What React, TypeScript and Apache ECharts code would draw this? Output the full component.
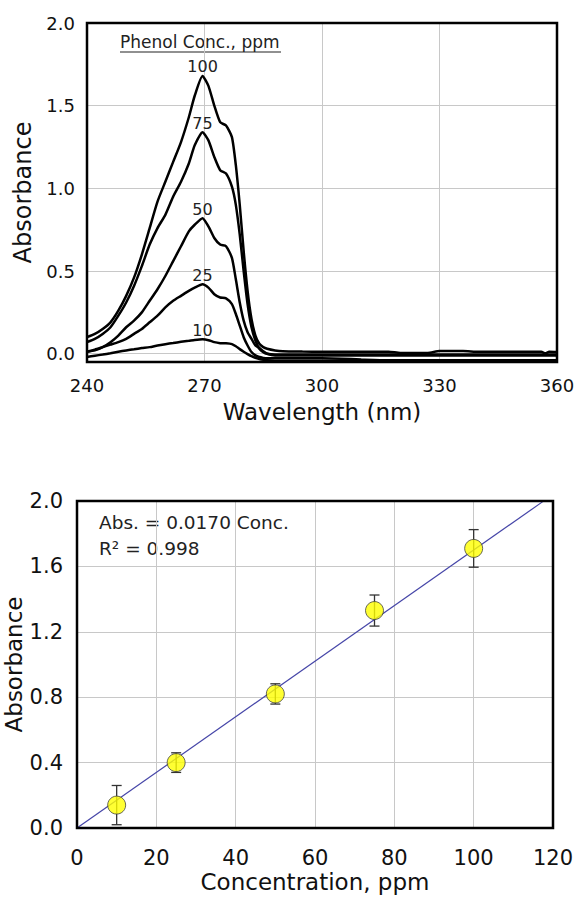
import React, { useEffect, useRef } from "react";
import * as echarts from "echarts";

// ---------- Top chart: phenol UV spectra ----------
const WAVELENGTH = [240, 242, 244, 246, 248, 250, 252, 254, 256, 258, 260, 262, 264, 266, 267.5, 269.5, 271, 272.5, 274, 275.5, 277, 278, 279, 280, 281, 282, 283, 284, 285, 286, 288, 290, 295, 300, 305, 310, 317, 320, 327, 330, 336, 340, 350, 356, 357, 358, 360];
const PEAK_INDEX = 15;
const ABS_100 = [0.10, 0.12, 0.15, 0.19, 0.26, 0.35, 0.46, 0.60, 0.76, 0.92, 1.04, 1.16, 1.28, 1.43, 1.56, 1.68, 1.62, 1.50, 1.40, 1.38, 1.31, 1.14, 0.90, 0.62, 0.38, 0.21, 0.11, 0.06, 0.04, 0.03, 0.02, 0.015, 0.013, 0.012, 0.012, 0.012, 0.012, 0.005, 0.005, 0.016, 0.016, 0.012, 0.012, 0.012, 0.003, 0.012, 0.01];
const ABS_75 = [0.07, 0.09, 0.12, 0.16, 0.23, 0.31, 0.41, 0.53, 0.66, 0.76, 0.84, 0.95, 1.04, 1.15, 1.26, 1.34, 1.29, 1.19, 1.11, 1.09, 1.01, 0.90, 0.72, 0.50, 0.30, 0.16, 0.08, 0.03, 0.01, 0.0, -0.005, -0.005, -0.005, -0.005, -0.005, -0.005, -0.005, -0.005, -0.005, -0.005, -0.005, -0.005, -0.005, -0.005, -0.005, -0.005, -0.005];
const ABS_50 = [0.012, 0.02, 0.04, 0.07, 0.11, 0.16, 0.20, 0.25, 0.32, 0.39, 0.47, 0.56, 0.65, 0.74, 0.78, 0.82, 0.77, 0.70, 0.66, 0.65, 0.58, 0.45, 0.31, 0.20, 0.13, 0.09, 0.05, 0.035, 0.015, 0.0, -0.01, -0.01, -0.01, -0.01, -0.01, -0.01, -0.01, -0.01, -0.01, -0.01, -0.01, -0.01, -0.01, -0.01, -0.01, -0.01, -0.01];
const ABS_25 = [0.012, 0.025, 0.04, 0.055, 0.07, 0.09, 0.12, 0.15, 0.19, 0.23, 0.28, 0.32, 0.35, 0.38, 0.40, 0.42, 0.40, 0.36, 0.34, 0.335, 0.30, 0.24, 0.17, 0.10, 0.05, 0.01, -0.01, -0.02, -0.025, -0.028, -0.028, -0.028, -0.028, -0.028, -0.03, -0.035, -0.04, -0.04, -0.04, -0.04, -0.04, -0.04, -0.04, -0.04, -0.04, -0.04, -0.04];
const ABS_10 = [-0.02, -0.012, -0.005, 0.003, 0.012, 0.02, 0.027, 0.034, 0.04, 0.05, 0.058, 0.065, 0.072, 0.078, 0.083, 0.087, 0.082, 0.07, 0.064, 0.063, 0.058, 0.045, 0.028, 0.012, -0.002, -0.015, -0.025, -0.032, -0.037, -0.04, -0.042, -0.042, -0.042, -0.042, -0.042, -0.042, -0.042, -0.042, -0.042, -0.042, -0.042, -0.042, -0.042, -0.042, -0.042, -0.042, -0.042];
const SPECTRA = [
  { name: "100", values: ABS_100 },
  { name: "75", values: ABS_75 },
  { name: "50", values: ABS_50 },
  { name: "25", values: ABS_25 },
  { name: "10", values: ABS_10 },
];
const TOP_Y_TICKS = [0, 0.5, 1.0, 1.5, 2.0];

// ---------- Bottom chart: calibration ----------
const CONC = [10, 25, 50, 75, 100];
const ABS_MEAN = [0.14, 0.40, 0.82, 1.33, 1.71];
const ABS_ERR = [0.12, 0.06, 0.062, 0.095, 0.115];
const FIT_SLOPE = 0.017;
const FIT_X = [0, 117.6];

const FONT = "DejaVu Sans";
const GRID_COLOR = "#c8c8c8";

export default function App() {
  const ref = useRef<HTMLDivElement>(null);
  useEffect(() => {
    if (!ref.current) return;
    const chart = echarts.init(ref.current, undefined, { renderer: "svg" });

    const spectraSeries = SPECTRA.map((s) => ({
      type: "line",
      xAxisIndex: 0,
      yAxisIndex: 0,
      smooth: 0.2,
      symbol: "circle",
      symbolSize: 0,
      showSymbol: true,
      lineStyle: { color: "#000", width: 2.5 },
      itemStyle: { color: "#000" },
      label: { show: false },
      data: WAVELENGTH.map((w, i) =>
        i === PEAK_INDEX
          ? {
              value: [w, s.values[i]],
              label: {
                show: true,
                position: "top",
                distance: 1,
                formatter: s.name,
                fontSize: 16,
                fontFamily: FONT,
                color: "#222",
              },
            }
          : [w, s.values[i]]
      ),
      z: 3,
    }));

    const option: any = {
      animation: false,
      backgroundColor: "#fff",
      textStyle: { fontFamily: FONT },
      grid: [
        { left: 87, top: 23, width: 470, height: 339, show: true, borderColor: "#000", borderWidth: 2.5, backgroundColor: "transparent", z: 5, containLabel: false, outerBoundsMode: "none" },
        { left: 77, top: 501, width: 476, height: 327, show: true, borderColor: "#000", borderWidth: 2.5, backgroundColor: "transparent", z: 5, containLabel: false, outerBoundsMode: "none" },
      ],
      xAxis: [
        {
          gridIndex: 0,
          type: "value",
          min: 240,
          max: 360,
          interval: 30,
          name: "Wavelength (nm)",
          nameLocation: "middle",
          nameGap: 38,
          nameMoveOverlap: false,
          nameTextStyle: { fontSize: 23, color: "#111", fontFamily: FONT },
          axisLine: { show: false },
          axisTick: { show: false },
          axisLabel: { fontSize: 18, color: "#111", margin: 14, fontFamily: FONT },
          splitLine: { show: true, lineStyle: { color: GRID_COLOR, width: 1 } },
        },
        {
          gridIndex: 1,
          type: "value",
          min: 0,
          max: 120,
          interval: 20,
          name: "Concentration, ppm",
          nameLocation: "middle",
          nameGap: 42,
          nameMoveOverlap: false,
          nameTextStyle: { fontSize: 23, color: "#111", fontFamily: FONT },
          axisLine: { show: false },
          axisTick: { show: false },
          axisLabel: { fontSize: 21, color: "#111", margin: 19, fontFamily: FONT },
          splitLine: { show: true, lineStyle: { color: GRID_COLOR, width: 1 } },
        },
      ],
      yAxis: [
        {
          gridIndex: 0,
          type: "value",
          min: -0.05,
          max: 2.0,
          name: "Absorbance",
          nameLocation: "middle",
          nameGap: 52,
          nameMoveOverlap: false,
          nameTextStyle: { fontSize: 24, color: "#111", fontFamily: FONT },
          axisLine: { show: false },
          axisTick: { show: false, customValues: TOP_Y_TICKS },
          axisLabel: {
            fontSize: 18,
            color: "#111",
            margin: 12,
            fontFamily: FONT,
            customValues: TOP_Y_TICKS,
            formatter: (v: number) => v.toFixed(1),
          },
          splitLine: { show: true, lineStyle: { color: GRID_COLOR, width: 1 } },
        },
        {
          gridIndex: 1,
          type: "value",
          min: 0,
          max: 2.0,
          interval: 0.4,
          name: "Absorbance",
          nameLocation: "middle",
          nameGap: 52,
          nameMoveOverlap: false,
          nameTextStyle: { fontSize: 23, color: "#111", fontFamily: FONT },
          axisLine: { show: false },
          axisTick: { show: false },
          axisLabel: {
            fontSize: 21,
            color: "#111",
            margin: 14,
            fontFamily: FONT,
            formatter: (v: number) => v.toFixed(1),
          },
          splitLine: { show: true, lineStyle: { color: GRID_COLOR, width: 1 } },
        },
      ],
      series: [
        ...spectraSeries,
        {
          type: "line",
          xAxisIndex: 1,
          yAxisIndex: 1,
          symbol: "none",
          lineStyle: { color: "#4646a8", width: 1.2 },
          data: FIT_X.map((x) => [x, FIT_SLOPE * x]),
          z: 2,
        },
        {
          type: "custom",
          xAxisIndex: 1,
          yAxisIndex: 1,
          encode: { x: 0, y: 1 },
          data: CONC.map((c, i) => [c, ABS_MEAN[i], ABS_ERR[i]]),
          renderItem: (params: any, api: any) => {
            const x = api.value(0);
            const y = api.value(1);
            const e = api.value(2);
            const top = api.coord([x, y + e]);
            const bot = api.coord([x, y - e]);
            const w = 5;
            const st = { stroke: "#333", lineWidth: 1.3 };
            return {
              type: "group",
              children: [
                { type: "line", shape: { x1: top[0], y1: top[1], x2: bot[0], y2: bot[1] }, style: st },
                { type: "line", shape: { x1: top[0] - w, y1: top[1], x2: top[0] + w, y2: top[1] }, style: st },
                { type: "line", shape: { x1: bot[0] - w, y1: bot[1], x2: bot[0] + w, y2: bot[1] }, style: st },
              ],
            };
          },
          z: 3,
        },
        {
          type: "scatter",
          xAxisIndex: 1,
          yAxisIndex: 1,
          symbol: "circle",
          symbolSize: 18,
          itemStyle: { color: "#ffff00", borderColor: "#444", borderWidth: 1 },
          data: CONC.map((c, i) => [c, ABS_MEAN[i]]),
          z: 4,
        },
      ],
      graphic: [
        {
          type: "text",
          left: 120,
          top: 33,
          style: { text: "Phenol Conc., ppm", fontSize: 17, fontFamily: FONT, fill: "#222" },
        },
        {
          type: "line",
          shape: { x1: 120, y1: 52, x2: 281, y2: 52 },
          style: { stroke: "#222", lineWidth: 1.2 },
        },
        {
          type: "text",
          left: 99,
          top: 513,
          style: { text: "Abs. = 0.0170 Conc.", fontSize: 18.5, fontFamily: FONT, fill: "#222" },
        },
        {
          type: "text",
          left: 99,
          top: 539,
          style: { text: "R² = 0.998", fontSize: 18.5, fontFamily: FONT, fill: "#222" },
        },
      ],
    };
    chart.setOption(option);
    return () => chart.dispose();
  }, []);

  return (
    <div
      ref={ref}
      style={{ position: "fixed", left: 0, top: 0, width: 575, height: 897, background: "#fff" }}
    />
  );
}
